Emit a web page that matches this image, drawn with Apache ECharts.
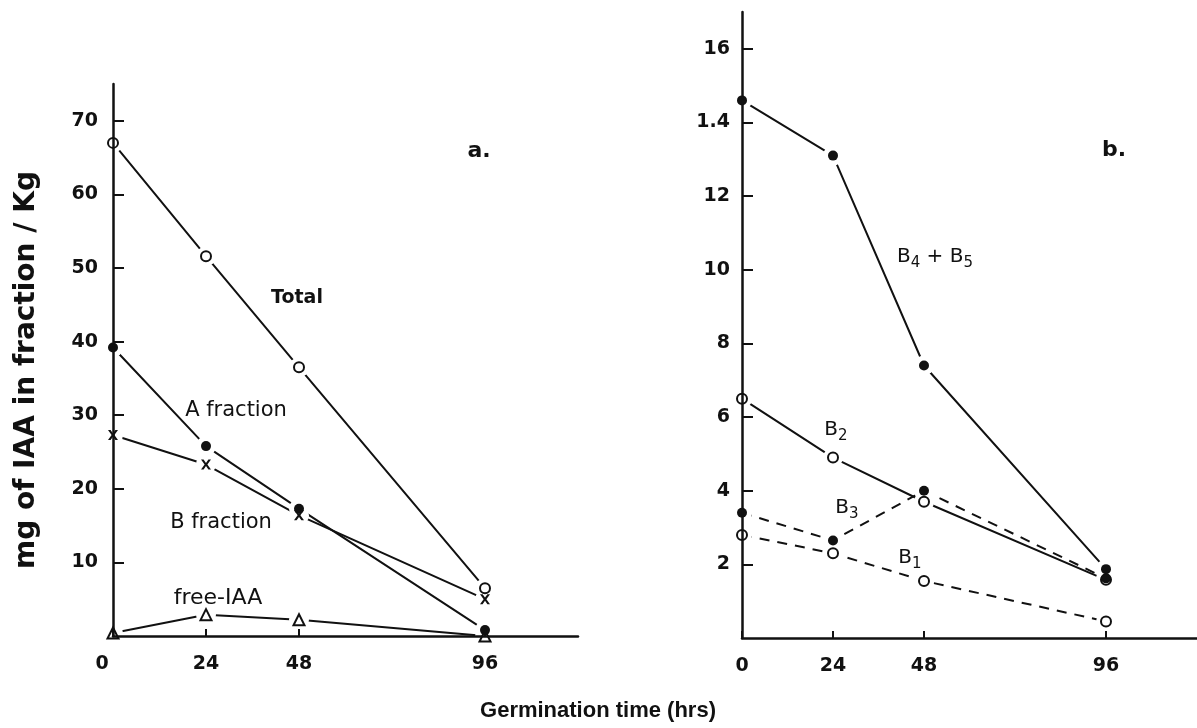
<!DOCTYPE html>
<html>
<head>
<meta charset="utf-8">
<script src="https://cdn.jsdelivr.net/npm/echarts@6/dist/echarts.min.js"></script>
<style>
  html, body { margin: 0; padding: 0; background: #fff; }
  #chart { width: 1197px; height: 728px; }
</style>
</head>
<body>
<div id="chart"></div>
<script>
// Germination time (hours) and axis ticks
const hours = [0, 24, 48, 96];
const xTicks = [0, 24, 48, 96];
const leftYTicks = [10, 20, 30, 40, 50, 60, 70];
const rightYTicks = [2, 4, 6, 8, 10, 12, 14, 16];
const rightYTickLabels = ['2', '4', '6', '8', '10', '12', '1.4', '16'];

// Panel a: mg IAA per kg
const totalIAA = [67, 51.6, 36.5, 6.5];
const fractionA = [39.2, 25.8, 17.3, 0.8];
const fractionB = [27.3, 23.3, 16.4, 5.0];
const freeIAA = [0.4, 2.9, 2.2, 0];

// Panel b: B sub-fractions
const b4b5 = [14.6, 13.1, 7.4, 1.87];
const b2 = [6.5, 4.9, 3.7, 1.58];
const b3 = [3.4, 2.65, 4.0, 1.62];
const b1 = [2.8, 2.3, 1.55, 0.45];

const INK = '#111';
const FONT = 'DejaVu Sans';
const xSymbol = 'path://M0,0 L2.6,0 L5,3.4 L7.4,0 L10,0 L6.4,5 L10,10 L7.4,10 L5,6.6 L2.6,10 L0,10 L3.6,5 Z';

function pairs(vals) { return hours.map((h, i) => [h, vals[i]]); }

// each curve: a plain line, a white halo that opens a gap around each point, then the marker
function curve(name, vals, panel, symbol, dashed, symbolSize) {
  const data = pairs(vals);
  const isEmpty = symbol.indexOf('empty') === 0;
  return [
    {
      name: name, type: 'line', xAxisIndex: panel, yAxisIndex: panel, data: data,
      showSymbol: false, z: 2, silent: true,
      lineStyle: { color: INK, width: 2, type: dashed ? [10, 8] : 'solid' }
    },
    {
      type: 'scatter', xAxisIndex: panel, yAxisIndex: panel, data: data,
      symbol: 'circle', symbolSize: 20, z: 3, silent: true,
      itemStyle: { color: '#fff', opacity: 1 }
    },
    {
      type: 'scatter', xAxisIndex: panel, yAxisIndex: panel, data: data,
      symbol: symbol, symbolSize: symbolSize || 10, z: 4, silent: true,
      itemStyle: isEmpty
        ? { color: INK, borderColor: INK, borderWidth: 2.2, opacity: 1 }
        : { color: INK, borderWidth: 0, opacity: 1 }
    }
  ];
}

function xAxis(gridIndex, zeroPad) {
  return {
    type: 'value', gridIndex: gridIndex, min: 0, max: 120, z: 10,
    splitLine: { show: false },
    axisLine: { show: true, onZero: false, lineStyle: { color: INK, width: 2.5 } },
    axisTick: { show: true, inside: true, length: 7, customValues: xTicks, lineStyle: { color: INK, width: 2 } },
    axisLabel: {
      customValues: xTicks, margin: 19, color: INK, fontFamily: FONT, fontWeight: 'bold', fontSize: 19,
      formatter: v => (v === 0 && zeroPad) ? '{z|0}' : String(v),
      rich: { z: { padding: [0, zeroPad || 0, 0, 0], color: INK, fontFamily: FONT, fontWeight: 'bold', fontSize: 19 } }
    }
  };
}

function yAxis(gridIndex, max, ticks, labels, margin) {
  return {
    type: 'value', gridIndex: gridIndex, min: 0, max: max, z: 10,
    splitLine: { show: false },
    axisLine: { show: true, onZero: false, lineStyle: { color: INK, width: 2.5 } },
    axisTick: { show: true, inside: true, length: 11, customValues: ticks, lineStyle: { color: INK, width: 2 } },
    axisLabel: {
      customValues: ticks, margin: margin, color: INK, fontFamily: FONT, fontWeight: 'bold', fontSize: 19,
      formatter: v => labels ? labels[ticks.indexOf(v)] : String(v)
    }
  };
}

function text(x, y, content, font, extra) {
  return Object.assign({
    type: 'text', x: x, y: y, silent: true,
    style: { text: content, fill: INK, font: font, align: 'center', verticalAlign: 'middle' }
  }, extra || {});
}

function subLabel(x, y, content) {
  return {
    type: 'text', x: x, y: y, silent: true,
    style: {
      text: content, fill: INK, font: '500 20px "' + FONT + '"', align: 'center', verticalAlign: 'middle',
      rich: { s: { fontSize: 15, fontFamily: FONT, fontWeight: 500, fill: INK, padding: [12, 0, 0, 0] } }
    }
  };
}

const series = [].concat(
  curve('Total', totalIAA, 0, 'emptyCircle', false),
  curve('A fraction', fractionA, 0, 'circle', false),
  curve('B fraction', fractionB, 0, xSymbol, false, 10),
  curve('free-IAA', freeIAA, 0, 'emptyTriangle', false, 11),
  curve('B4 + B5', b4b5, 1, 'circle', false),
  curve('B2', b2, 1, 'emptyCircle', false),
  curve('B3', b3, 1, 'circle', true),
  curve('B1', b1, 1, 'emptyCircle', true)
);

const chart = echarts.init(document.getElementById('chart'), null, { renderer: 'canvas' });
chart.setOption({
  backgroundColor: '#fff',
  animation: false,
  grid: [
    { left: 113, top: 84, width: 465, height: 552 },
    { left: 742, top: 12, width: 464, height: 626 }
  ],
  xAxis: [xAxis(0, 22), xAxis(1, 0)],
  yAxis: [
    yAxis(0, 75, leftYTicks, null, 15),
    yAxis(1, 17, rightYTicks, rightYTickLabels, 12)
  ],
  series: series,
  graphic: [
    text(27, 370, 'mg of IAA in fraction / Kg', 'bold 28px "DejaVu Sans"', { rotation: Math.PI / 2 }),
    text(598, 711, 'Germination time (hrs)', 'bold 22px "Liberation Sans"'),
    text(479, 151, 'a.', 'bold 22px "DejaVu Sans"'),
    text(1114, 150, 'b.', 'bold 22px "DejaVu Sans"'),
    text(297, 298, 'Total', 'bold 19px "DejaVu Sans"'),
    text(236, 411, 'A fraction', '500 21px "DejaVu Sans"'),
    text(221, 523, 'B fraction', '500 21px "DejaVu Sans"'),
    text(218, 598, 'free-IAA', '500 22px "DejaVu Sans"'),
    subLabel(935, 257, 'B{s|4} + B{s|5}'),
    subLabel(836, 430, 'B{s|2}'),
    subLabel(847, 508, 'B{s|3}'),
    subLabel(910, 558, 'B{s|1}')
  ]
});
</script>
</body>
</html>
